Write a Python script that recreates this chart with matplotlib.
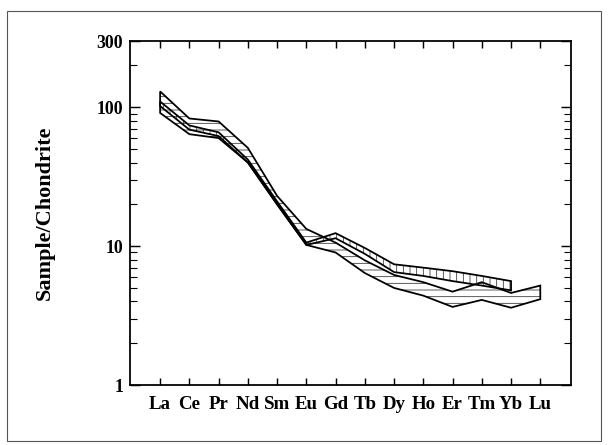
import matplotlib
matplotlib.use("Agg")
import matplotlib.pyplot as plt
from matplotlib.ticker import FixedLocator, NullFormatter
from matplotlib.patches import Rectangle, Polygon

elements = ["La", "Ce", "Pr", "Nd", "Sm", "Eu", "Gd", "Tb", "Dy", "Ho", "Er", "Tm", "Yb", "Lu"]

# Band with horizontal hatching (La..Lu)
band_h_upper = [130, 83, 79, 51, 23, 13.3, 10.6, 7.9, 6.2, 5.5, 4.7, 5.5, 4.6, 5.2]
band_h_lower = [91, 64, 60, 40, 20, 10.2, 9.0, 6.4, 5.0, 4.4, 3.65, 4.1, 3.6, 4.15]

# Band with vertical hatching (La..Yb)
band_v_upper = [110, 74, 66, 42, 21, 10.6, 12.4, 9.7, 7.4, 7.0, 6.6, 6.1, 5.6]
band_v_lower = [102, 69, 62, 40, 20, 10.2, 11.4, 8.8, 6.5, 6.1, 5.6, 5.2, 4.8]

yticks = [1, 10, 100, 300]
yticklabels = ["1", "10", "100", "300"]

plt.rcParams['font.family'] = ['Liberation Serif', 'DejaVu Serif']
plt.rcParams['font.weight'] = 'bold'
plt.rcParams['hatch.linewidth'] = 0.7

DPI = 80
fig = plt.figure(figsize=(608 / DPI, 445 / DPI), dpi=DPI)
ax = fig.add_axes([130 / 608, 1 - 385 / 445, (571 - 130) / 608, (385 - 41) / 445])

# outer frame
fig.patches.append(Rectangle((7 / 608, 1 - 441 / 445), (601 - 7) / 608, (441 - 11) / 445,
                             transform=fig.transFigure, fill=False, edgecolor='#555555',
                             linewidth=1.0))


def draw_band(upper, lower, hatch):
    n = len(upper)
    xs = list(range(n))
    pts = [(x, y) for x, y in zip(xs, upper)] + [(x, y) for x, y in zip(xs[::-1], lower[::-1])]
    poly = Polygon(pts, closed=True, facecolor='none', edgecolor='#333333', hatch=hatch,
                   linewidth=0)
    ax.add_patch(poly)
    outline = Polygon(pts, closed=True, fill=False, edgecolor='black', linewidth=1.6,
                      joinstyle='miter')
    ax.add_patch(outline)


draw_band(band_h_upper, band_h_lower, '--')
draw_band(band_v_upper, band_v_lower, '||')

ax.set_yscale('log')
ax.set_ylim(1, 300)
ax.set_xlim(-1.03, 14.05)

ax.set_xticks(range(len(elements)))
ax.set_xticklabels(elements, fontsize=17, fontweight='bold')
ax.yaxis.set_major_locator(FixedLocator(yticks))
ax.set_yticklabels(yticklabels, fontsize=16, fontweight='bold')
minors = [v * d for d in (1, 10, 100) for v in range(2, 10) if v * d < 300]
ax.yaxis.set_minor_locator(FixedLocator(minors))
ax.yaxis.set_minor_formatter(NullFormatter())

ax.tick_params(axis='x', which='major', direction='in', length=6, width=1.3,
               top=True, pad=10)
ax.tick_params(axis='y', which='major', direction='in', length=9, width=1.3,
               right=True, pad=6)
ax.tick_params(axis='y', which='minor', direction='in', length=6, width=1.0, right=True)

for s in ax.spines.values():
    s.set_linewidth(1.6)

ax.set_ylabel("Sample/Chondrite", fontsize=20, fontweight='bold')
ax.yaxis.set_label_coords((55 - 130) / 441, 0.5)

fig.savefig("out.png", dpi=DPI)
